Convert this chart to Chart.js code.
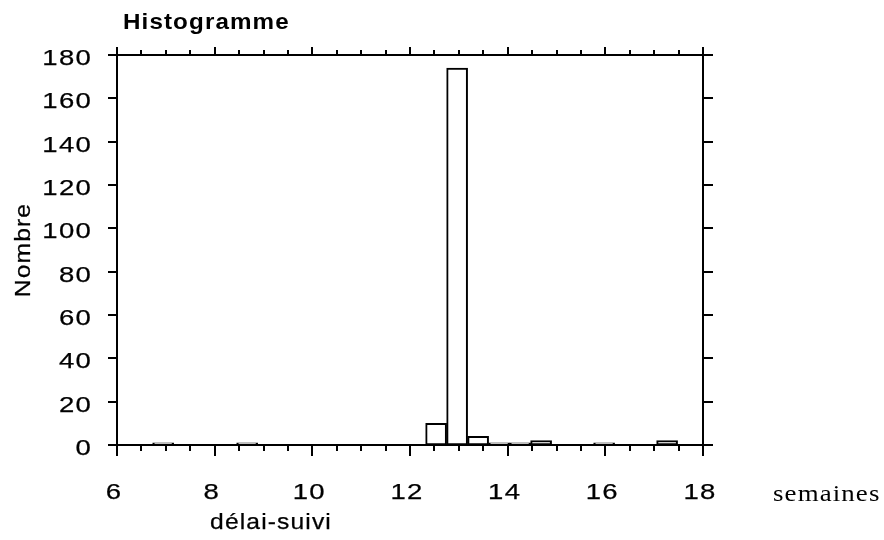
<!DOCTYPE html>
<html lang="fr">
<head>
  <meta charset="UTF-8">
  <title>Histogramme</title>
  <script src="https://cdn.jsdelivr.net/npm/chart.js"></script>
  <style>
    body { margin: 0; background: #fff; }
    #wrap { width: 884px; height: 540px; position: relative; }
  </style>
</head>
<body>
  <div id="wrap"><canvas id="histo"></canvas></div>

  <script>
    // bins of ~0.43 semaines, centres
    const binCenters = [6.945, 7.375, 7.805, 8.235, 8.665, 9.095, 9.525, 9.955, 10.385, 10.815,
      11.245, 11.675, 12.105, 12.535, 12.965, 13.395, 13.825, 14.255, 14.685, 15.115,
      15.545, 15.975, 16.405, 16.835, 17.265];
    const counts = [1, 0, 0, 0, 1, 0, 0, 0, 0, 0,
      0, 0, 0, 10, 174, 4, 1, 1, 2, 0,
      0, 1, 0, 0, 2];
    const xRange = [6, 18];
    const yRange = [0, 180];
    const xMajorStep = 2, xMinorStep = 0.5, yStep = 20;

    const sans = "'Liberation Sans', Arial, Helvetica, sans-serif";

    // the scanned lettering is wider and a bit heavier than any installed face
    function wideText(ctx, text, x, y, sx, align, rot, weight) {
      ctx.save();
      ctx.translate(x, y);
      if (rot) ctx.rotate(rot);
      ctx.scale(sx, 1);
      ctx.textAlign = align;
      ctx.letterSpacing = '1px';
      ctx.fillText(text, 0, 0);
      if (weight) {
        ctx.lineWidth = weight;
        ctx.strokeText(text, 0, 0);
      }
      ctx.restore();
    }

    // box, outward tick marks, labels and the loose texts
    const framePlugin = {
      id: 'frame',
      afterDraw(chart) {
        const ctx = chart.ctx;
        const { left, right, top, bottom } = chart.chartArea;
        const xs = chart.scales.x, ys = chart.scales.y;
        ctx.save();
        ctx.strokeStyle = '#000';
        ctx.lineWidth = 2;
        ctx.strokeRect(left, top, right - left, bottom - top);

        ctx.beginPath();
        for (let v = xRange[0]; v <= xRange[1] + 1e-9; v += xMinorStep) {
          const px = Math.round(xs.getPixelForValue(v));
          const major = Math.abs(v / xMajorStep - Math.round(v / xMajorStep)) < 1e-6;
          ctx.moveTo(px, bottom); ctx.lineTo(px, bottom + (major ? 11 : 6));
          ctx.moveTo(px, top); ctx.lineTo(px, top - (major ? 8 : 5));
        }
        for (let v = yRange[0]; v <= yRange[1]; v += yStep) {
          const py = Math.round(ys.getPixelForValue(v));
          ctx.moveTo(left - 9, py); ctx.lineTo(left, py);
          ctx.moveTo(right, py); ctx.lineTo(right + 10, py);
        }
        ctx.stroke();

        ctx.fillStyle = '#000';
        ctx.textBaseline = 'alphabetic';
        ctx.font = "22px " + sans;
        xs.ticks.forEach(t => {
          wideText(ctx, String(t.value), xs.getPixelForValue(t.value) - 3, 499, 1.25, 'center', 0, 0.25);
        });
        ys.ticks.forEach(t => {
          wideText(ctx, String(t.value), 92, ys.getPixelForValue(t.value) + 10, 1.25, 'right', 0, 0.25);
        });

        wideText(ctx, 'Nombre', 30, (top + bottom) / 2, 1.12, 'center', -Math.PI / 2, 0.25);
        wideText(ctx, 'délai-suivi', 271, 529, 1.12, 'center', 0, 0.25);

        ctx.font = "bold 22px " + sans;
        wideText(ctx, 'Histogramme', 123, 29, 1.1, 'left');

        ctx.font = "24px 'Liberation Serif', 'Times New Roman', serif";
        wideText(ctx, 'semaines', 773, 501, 1.12, 'left');
        ctx.restore();
      }
    };

    new Chart(document.getElementById('histo'), {
      type: 'bar',
      data: {
        datasets: [{
          label: 'Nombre',
          data: binCenters.map((c, i) => ({ x: c, y: counts[i] })),
          backgroundColor: '#fff',
          borderColor: '#000',
          borderWidth: 2,
          borderSkipped: false,
          barPercentage: 1,
          categoryPercentage: 1
        }]
      },
      options: {
        responsive: true,
        maintainAspectRatio: false,
        animation: false,
        layout: { padding: { left: 0, right: 181, top: 55, bottom: 0 } },
        plugins: {
          legend: { display: false },
          tooltip: { enabled: false }
        },
        scales: {
          x: {
            type: 'linear',
            offset: false,
            min: xRange[0],
            max: xRange[1],
            grid: { display: false, drawTicks: false },
            border: { display: false },
            ticks: { stepSize: xMajorStep, display: false },
            afterFit(scale) { scale.height = 95; }
          },
          y: {
            min: yRange[0],
            max: yRange[1],
            grid: { display: false, drawTicks: false },
            border: { display: false },
            ticks: { stepSize: yStep, display: false },
            afterFit(scale) { scale.width = 117; }
          }
        }
      },
      plugins: [framePlugin]
    });
  </script>
</body>
</html>
